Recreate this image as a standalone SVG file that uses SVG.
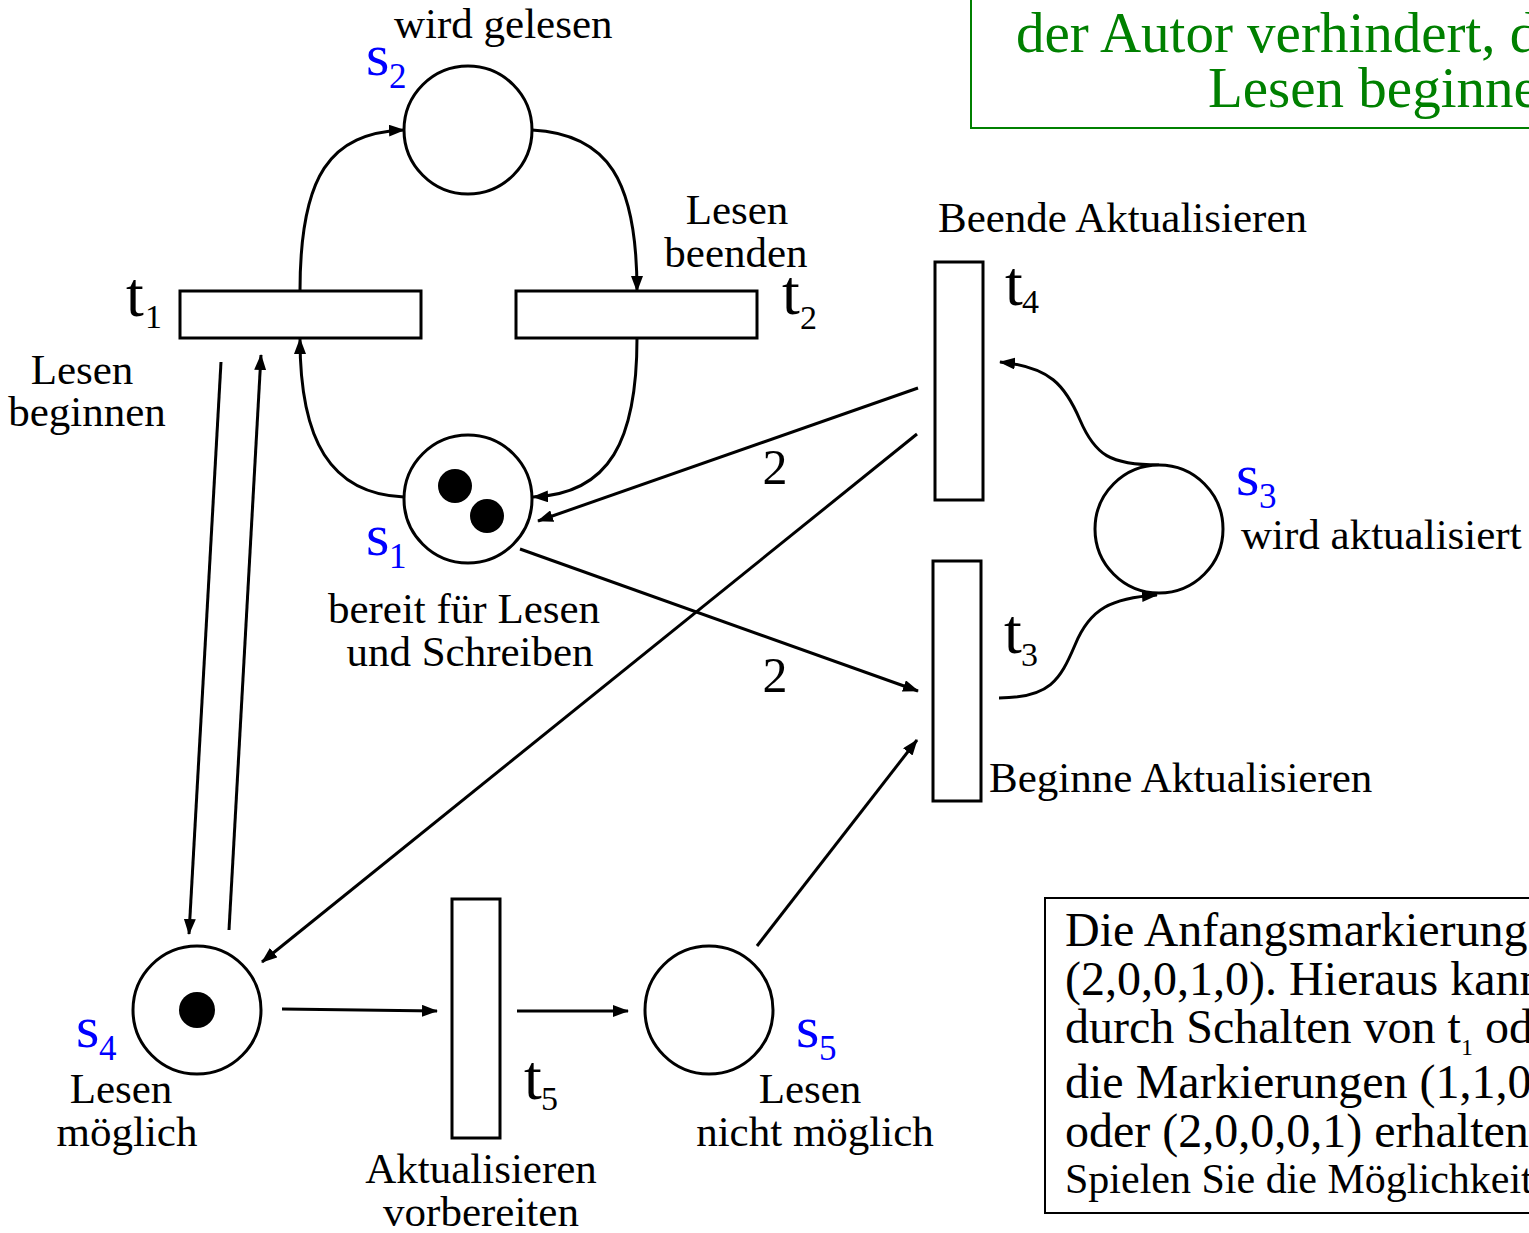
<svg xmlns="http://www.w3.org/2000/svg" width="1529" height="1233" viewBox="0 0 1529 1233">
<style>
text{font-family:"Liberation Serif","Times New Roman",serif;fill:#000}
.lbl{font-size:43px}
.mid{text-anchor:middle}
.tn{font-size:64px}
.ts{font-size:34px}
.sn{font-size:60px;fill:#0000ff}
.ss{font-size:35px;fill:#0000ff}
.w{font-size:50px}
.place{fill:#fff;stroke:#000;stroke-width:3}
.trans{fill:#fff;stroke:#000;stroke-width:3}
.tok{fill:#000}
.arc{fill:none;stroke:#000;stroke-width:3;marker-end:url(#ah)}
.green{font-size:57px;fill:#008000}
.note{font-size:48px}
.note2{font-size:42px}
</style>
<defs>
<marker id="ah" markerWidth="16" markerHeight="12" refX="15" refY="6" orient="auto" markerUnits="userSpaceOnUse"><path d="M0,0 L16,6 L0,12 z" fill="#000"/></marker>
</defs>
<rect width="1529" height="1233" fill="#fff"/>

<g id="green-note">
<rect x="971" y="-10" width="600" height="138" fill="none" stroke="#008000" stroke-width="2"/>
<text class="green" x="1016" y="52">der Autor verhindert, d</text>
<text class="green" x="1208" y="107">Lesen beginnen</text>
</g>

<g id="info-note">
<rect x="1045" y="898" width="520" height="315" fill="none" stroke="#000" stroke-width="2"/>
<text class="note" x="1065" y="946">Die Anfangsmarkierung</text>
<text class="note" x="1065" y="995">(2,0,0,1,0). Hieraus kann</text>
<text class="note" x="1065" y="1043">durch Schalten von t<tspan font-size="24" dy="12">1</tspan><tspan dy="-12"> od</tspan></text>
<text class="note" x="1065" y="1098">die Markierungen (1,1,0</text>
<text class="note" x="1065" y="1147">oder (2,0,0,0,1) erhalten</text>
<text class="note2" x="1065" y="1193">Spielen Sie die Möglichkeit</text>
</g>

<g id="connectors">
<path class="arc" d="M300,291 C300,175 330,133 404,130"/>
<path class="arc" d="M532,130 C608,134 637,180 637,291"/>
<path class="arc" d="M637,338 C637,440 610,494 533,497"/>
<path class="arc" d="M404,497 C330,494 300,440 300,339"/>
<path class="arc" d="M221,362 L189,934"/>
<path class="arc" d="M229,930 L261,355"/>
<path class="arc" d="M918,388 L538,521"/>
<path class="arc" d="M917,434 L262,962"/>
<path class="arc" d="M520,549 L918,691"/>
<path class="arc" d="M282,1009 L437,1011"/>
<path class="arc" d="M517,1011 L628,1011"/>
<path class="arc" d="M757,946 L917,740"/>
<path class="arc" d="M999,698 C1050,698 1060,680 1075,645 C1090,608 1112,598 1157,595"/>
<path class="arc" d="M1159,465 C1110,465 1095,455 1080,420 C1065,385 1050,367 1000,362"/>
<text class="w" x="775" y="484" text-anchor="middle">2</text>
<text class="w" x="775" y="692" text-anchor="middle">2</text>
</g>

<g id="s2">
<circle class="place" cx="468" cy="130" r="64"/>
<text class="sn" x="366" y="75">s</text><text class="ss" x="389" y="88">2</text>
<text class="lbl" x="394" y="38">wird gelesen</text>
</g>

<g id="s1">
<circle class="place" cx="468" cy="499" r="64"/>
<circle class="tok" cx="455" cy="486" r="17"/>
<circle class="tok" cx="487" cy="516" r="17"/>
<text class="sn" x="366" y="555">s</text><text class="ss" x="389" y="568">1</text>
<text class="lbl mid" x="464" y="623">bereit für Lesen</text>
<text class="lbl mid" x="470" y="666">und Schreiben</text>
</g>

<g id="s3">
<circle class="place" cx="1159" cy="529" r="64"/>
<text class="sn" x="1236" y="495">s</text><text class="ss" x="1259" y="508">3</text>
<text class="lbl" x="1241" y="549">wird aktualisiert</text>
</g>

<g id="s4">
<circle class="place" cx="197" cy="1010" r="64"/>
<circle class="tok" cx="197" cy="1010" r="18"/>
<text class="sn" x="76" y="1047">s</text><text class="ss" x="99" y="1060">4</text>
<text class="lbl mid" x="121" y="1103">Lesen</text>
<text class="lbl mid" x="127" y="1146">möglich</text>
</g>

<g id="s5">
<circle class="place" cx="709" cy="1010" r="64"/>
<text class="sn" x="796" y="1047">s</text><text class="ss" x="819" y="1060">5</text>
<text class="lbl mid" x="810" y="1103">Lesen</text>
<text class="lbl mid" x="815" y="1146">nicht möglich</text>
</g>

<g id="t1">
<rect class="trans" x="180" y="291" width="241" height="47"/>
<text class="tn" x="126" y="316">t</text><text class="ts" x="145" y="328">1</text>
<text class="lbl mid" x="82" y="384">Lesen</text>
<text class="lbl mid" x="87" y="426">beginnen</text>
</g>

<g id="t2">
<rect class="trans" x="516" y="291" width="241" height="47"/>
<text class="tn" x="782" y="314">t</text><text class="ts" x="800" y="329">2</text>
<text class="lbl mid" x="737" y="224">Lesen</text>
<text class="lbl mid" x="736" y="267">beenden</text>
</g>

<g id="t4">
<rect class="trans" x="935" y="262" width="48" height="238"/>
<text class="tn" x="1005" y="305">t</text><text class="ts" x="1022" y="313">4</text>
<text class="lbl" x="938" y="232">Beende Aktualisieren</text>
</g>

<g id="t3">
<rect class="trans" x="933" y="561" width="48" height="240"/>
<text class="tn" x="1004" y="653">t</text><text class="ts" x="1021" y="666">3</text>
<text class="lbl" x="989" y="792">Beginne Aktualisieren</text>
</g>

<g id="t5">
<rect class="trans" x="452" y="899" width="48" height="239"/>
<text class="tn" x="524" y="1099">t</text><text class="ts" x="541" y="1110">5</text>
<text class="lbl mid" x="481" y="1183">Aktualisieren</text>
<text class="lbl mid" x="481" y="1226">vorbereiten</text>
</g>
</svg>
